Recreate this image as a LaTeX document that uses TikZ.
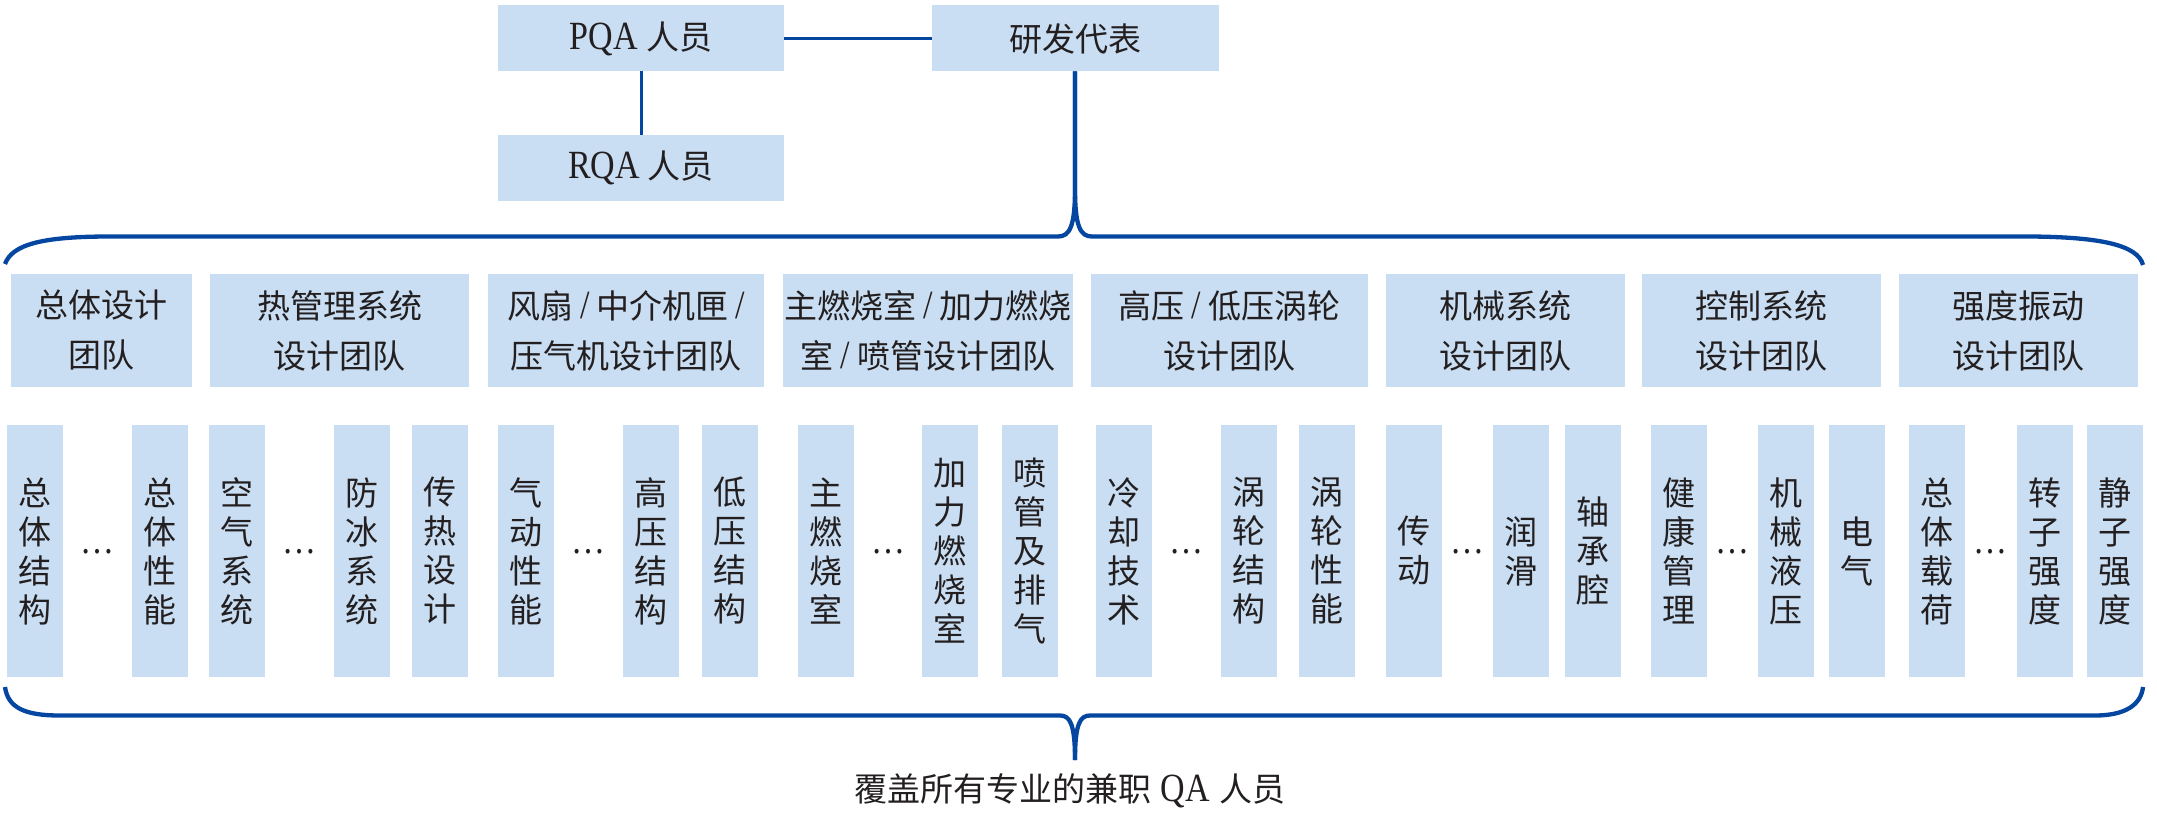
\documentclass[tikz,border=0pt]{standalone}
\usepackage{fontspec}
\setmainfont{Noto Sans CJK SC}
\newfontfamily\lat[FakeStretch=0.85]{Liberation Serif}
\newcommand\lattxt[1]{{\lat\fontsize{40}{40}\selectfont #1}}
\newcommand\slsh{\hspace{7pt}\lattxt{/}\hspace{7pt}}
\definecolor{bfill}{RGB}{201,222,242}
\definecolor{lblue}{RGB}{5,70,160}
\definecolor{txt}{RGB}{35,31,32}
\begin{document}
\begin{tikzpicture}[x=1pt,y=-1pt,
  box/.style={fill=bfill, inner sep=0pt, outer sep=0pt, text=txt, align=center},
  topbox/.style={box, minimum width=286pt, minimum height=66pt, font=\fontsize{33}{40}\selectfont},
  team/.style={box, minimum height=113pt, font=\fontsize{33}{50}\selectfont},
  sub/.style={box, minimum width=56pt, minimum height=252pt, font=\fontsize{33}{39}\selectfont},
  dots/.style={anchor=base, text=txt, inner sep=0pt, font=\lat\fontsize{40}{40}\selectfont},
  link/.style={draw=lblue, line width=3pt},
  brace/.style={draw=lblue, line width=4.3pt, line join=round}]
\useasboundingbox (0,0) rectangle (2157,818);

% top boxes
\node[topbox] (pqa) at (641,38.5) {\lattxt{PQA}\hspace{8pt}人员};
\node[topbox, minimum width=287pt] (rd) at (1075,38.5) {研发代表};
\node[topbox] (rqa) at (641,168) {\lattxt{RQA}\hspace{8pt}人员};
\draw[link] (pqa) -- (rd);
\draw[link] (pqa) -- (rqa);

% team boxes
\node[team, minimum width=181pt] (t1) at (101.5,330.5) {总体设计\\团队};
\node[team, minimum width=259pt] (t2) at (339.5,330.5) {热管理系统\\设计团队};
\node[team, minimum width=276pt] (t3) at (626,330.5) {风扇\slsh 中介机匣\slsh\\压气机设计团队};
\node[team, minimum width=290pt] (t4) at (928,330.5) {主燃烧室\slsh 加力燃烧\\室\slsh 喷管设计团队};
\node[team, minimum width=277pt] (t5) at (1229.5,330.5) {高压\slsh 低压涡轮\\设计团队};
\node[team, minimum width=239pt] (t6) at (1505.5,330.5) {机械系统\\设计团队};
\node[team, minimum width=239pt] (t7) at (1761.5,330.5) {控制系统\\设计团队};
\node[team, minimum width=239pt] (t8) at (2018.5,330.5) {强度振动\\设计团队};

% sub boxes
\foreach \x/\t [count=\i] in {
  35/总\\体\\结\\构, 160/总\\体\\性\\能, 237/空\\气\\系\\统, 362/防\\冰\\系\\统,
  440/传\\热\\设\\计, 526/气\\动\\性\\能, 650.5/高\\压\\结\\构, 729.5/低\\压\\结\\构,
  826/主\\燃\\烧\\室, 950/加\\力\\燃\\烧\\室, 1029.5/喷\\管\\及\\排\\气,
  1124/冷\\却\\技\\术, 1249/涡\\轮\\结\\构, 1327/涡\\轮\\性\\能,
  1414/传\\动, 1521/润\\滑, 1593/轴\\承\\腔,
  1678.5/健\\康\\管\\理, 1786/机\\械\\液\\压, 1857/电\\气,
  1936.5/总\\体\\载\\荷, 2044.5/转\\子\\强\\度, 2114.5/静\\子\\强\\度}
  \node[sub] (s\i) at (\x,551) {\t};

% ellipses
\foreach \x [count=\i] in {97.5,299.5,588.5,888,1186.5,1467.5,1732.5,1990.5}
  \node[dots] (d\i) at (\x,553.5) {…};

% braces
\coordinate (tl) at (5,264);
\coordinate (tr) at (2143,265);
\coordinate (bl) at (5,687);
\coordinate (br) at (2143,687);
\coordinate (bt) at (1075,760);
\draw[brace] (tl) .. controls (12,245) and (40,236.5) .. (110,236.5) -- (1058,236.5)
  .. controls (1070,236.5) and (1075,226) .. (1075,188) -- (rd.south);
\draw[brace] (rd.south) -- (1075,188) .. controls (1075,226) and (1080,236.5) .. (1092,236.5)
  -- (2030,236.5) .. controls (2100,237) and (2138,245) .. (tr);
\draw[brace] (bl) .. controls (8,708) and (25,715.5) .. (60,715.5) -- (1060,715.5)
  .. controls (1070,715.5) and (1075,724) .. (bt);
\draw[brace] (bt) .. controls (1075,724) and (1080,715.5) .. (1090,715.5) -- (2095,715.5)
  .. controls (2125,715.5) and (2141,705) .. (br);

% caption
\node[text=txt, inner sep=0pt, font=\fontsize{33}{40}\selectfont] (cap) at (1070,791)
  {覆盖所有专业的兼职\hspace{9pt}\lattxt{QA}\hspace{9pt}人员};
\end{tikzpicture}
\end{document}
